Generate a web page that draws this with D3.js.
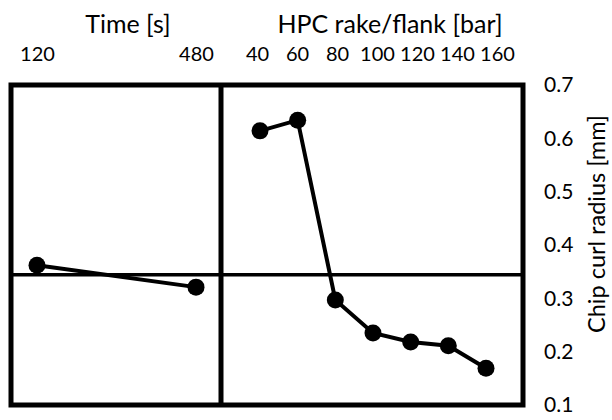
<!DOCTYPE html>
<html>
<head>
<meta charset="utf-8">
<script src="https://cdn.jsdelivr.net/npm/d3@7"></script>
<style>
  html, body { margin: 0; padding: 0; background: #fff; }
  svg text { font-family: Lato, "Open Sans", sans-serif; fill: #000; }
</style>
</head>
<body>
<svg id="chart" width="612" height="420"></svg>
<script>
// Main-effects data: chip curl radius by factor level
const timeLevels = ["120", "480"];
const timeValues = [0.362, 0.321];
const hpcLevels = ["40", "60", "80", "100", "120", "140", "160"];
const hpcValues = [0.614, 0.634, 0.297, 0.235, 0.218, 0.211, 0.169];
const yTicks = [0.1, 0.2, 0.3, 0.4, 0.5, 0.6, 0.7];
const grandMean = 0.344;

const svg = d3.select("#chart");

// Frame layout
const frameLeft = 11, frameRight = 523, frameTop = 85, frameBottom = 405, divider = 221;

const y = d3.scaleLinear().domain([0.1, 0.7]).range([frameBottom, frameTop]);
const xTime = d3.scalePoint().domain(timeLevels).range([37, 196]);
const xHpc = d3.scalePoint().domain(hpcLevels).range([260, 486]);
// Level labels are set as one evenly spaced row that runs a little wider than the markers
const xHpcLabels = d3.scalePoint().domain(hpcLevels).range([257, 497]);

// Grand-mean reference line
svg.append("line")
  .attr("x1", frameLeft).attr("x2", frameRight)
  .attr("y1", y(grandMean)).attr("y2", y(grandMean))
  .attr("stroke", "#000").attr("stroke-width", 3.5);

// Outer frame and panel divider
svg.append("rect")
  .attr("x", frameLeft).attr("y", frameTop)
  .attr("width", frameRight - frameLeft).attr("height", frameBottom - frameTop)
  .attr("fill", "none").attr("stroke", "#000").attr("stroke-width", 5);
svg.append("line")
  .attr("x1", divider).attr("x2", divider)
  .attr("y1", frameTop).attr("y2", frameBottom)
  .attr("stroke", "#000").attr("stroke-width", 5);

// Series lines and markers
function drawSeries(levels, values, x) {
  const pts = levels.map((l, i) => [x(l), y(values[i])]);
  svg.append("path")
    .attr("d", d3.line()(pts))
    .attr("fill", "none").attr("stroke", "#000").attr("stroke-width", 4);
  svg.selectAll(null).data(pts).enter().append("circle")
    .attr("cx", d => d[0]).attr("cy", d => d[1]).attr("r", 8.5)
    .attr("fill", "#000");
}
drawSeries(timeLevels, timeValues, xTime);
drawSeries(hpcLevels, hpcValues, xHpc);

// Top level labels (axis at top, no lines)
const axTime = svg.append("g").attr("transform", "translate(0,61)")
  .call(d3.axisTop(xTime).tickSize(0).tickPadding(0));
const axHpc = svg.append("g").attr("transform", "translate(0,61)")
  .call(d3.axisTop(xHpcLabels).tickSize(0).tickPadding(0));
[axTime, axHpc].forEach(g => {
  g.select(".domain").remove();
  g.selectAll("text").attr("font-size", 20).attr("font-family", "Lato, sans-serif");
});

// Factor titles
svg.append("text").attr("x", 128).attr("y", 33).attr("text-anchor", "middle")
  .attr("font-size", 25).text("Time [s]");
svg.append("text").attr("x", 390).attr("y", 33).attr("text-anchor", "middle")
  .attr("font-size", 25).text("HPC rake/flank [bar]");

// Right-hand value axis
const axY = svg.append("g").attr("transform", `translate(${frameRight},0)`)
  .call(d3.axisRight(y).tickValues(yTicks).tickFormat(d3.format(".1f"))
    .tickSize(0).tickPadding(21));
axY.select(".domain").remove();
axY.selectAll("text").attr("font-size", 21).attr("font-family", "Lato, sans-serif");

svg.append("text")
  .attr("transform", "translate(605,224) rotate(-90)")
  .attr("text-anchor", "middle").attr("font-size", 23)
  .attr("textLength", 218).attr("lengthAdjust", "spacingAndGlyphs")
  .text("Chip curl radius [mm]");
</script>
</body>
</html>
